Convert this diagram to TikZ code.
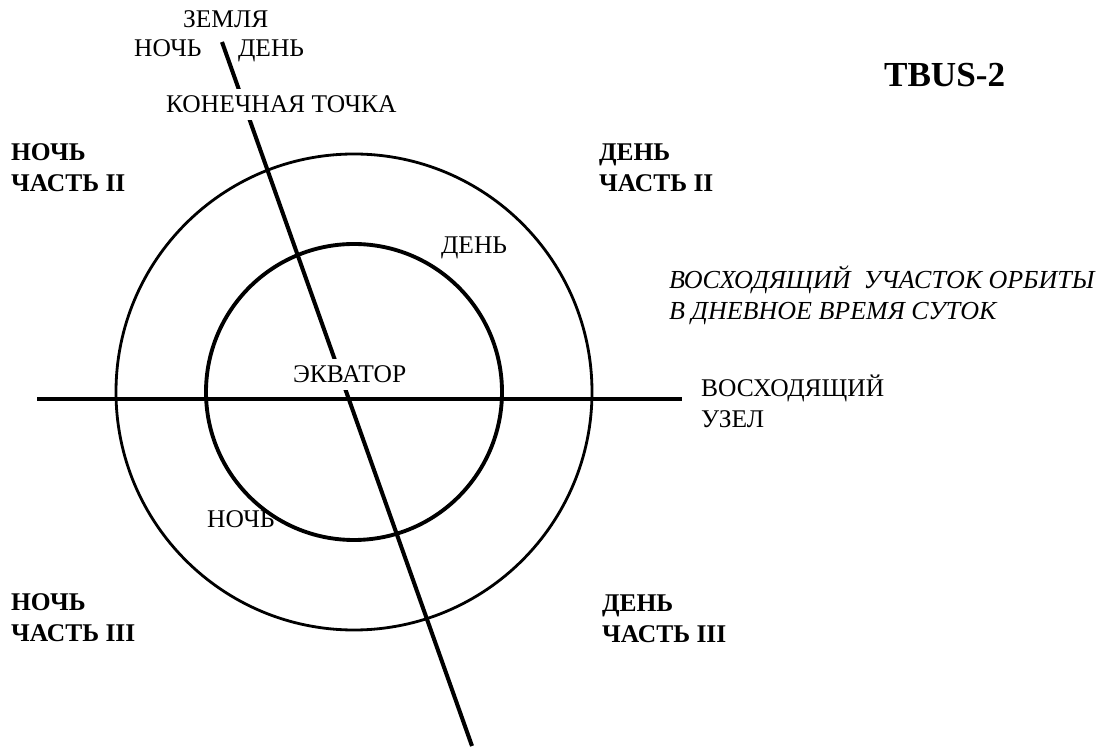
\documentclass[tikz,border=0pt]{standalone}
\usepackage{fontspec}
\setmainfont{Liberation Serif}
\usetikzlibrary{positioning}

\begin{document}
\begin{tikzpicture}[x=0.02cm, y=-0.02cm,
  every node/.style={font=\fontsize{14.5}{18}\selectfont, inner sep=1pt, anchor=base west, align=left},
  part/.style={font=\bfseries\fontsize{14.5}{18}\selectfont},
  gap/.style={fill=white, inner ysep=4pt}]
  \useasboundingbox (0,0) rectangle (1107,749);

  % orbit circles and axes
  \coordinate (ctr) at (354,392);
  \coordinate (west) at (37,399);
  \coordinate (east) at (682,399);
  \coordinate (top) at (222,42);
  \coordinate (bot) at (472,746);
  \draw[line width=1.6pt] (ctr) circle (238);
  \draw[line width=2.2pt] (ctr) circle (148);
  \draw[line width=2.3pt] (west) -- (east);
  \draw[line width=2.3pt] (top) -- (bot);

  % labels on the track (break the line)
  \node[gap] (end) at (164,113) {КОНЕЧНАЯ ТОЧКА};
  \node[gap] (eq) at (291,383) {ЭКВАТОР};

  % earth
  \node (earth) at (181,28) {ЗЕМЛЯ};
  \node (en) at (132,57) {НОЧЬ};
  \node (ed) at (236,57) {ДЕНЬ};

  % quadrants (base = last line)
  \node[part] (n2) at (9,192) {НОЧЬ\\ЧАСТЬ II};
  \node[part] (d2) at (597,192) {ДЕНЬ\\ЧАСТЬ II};
  \node[part] (n3) at (9,642) {НОЧЬ\\ЧАСТЬ  III};
  \node[part] (d3) at (600,643) {ДЕНЬ\\ЧАСТЬ  III};
  \node[font=\bfseries\fontsize{20}{22}\selectfont] (title) at (882,87) {TBUS-2};

  % inner labels
  \node (day) at (439,254) {ДЕНЬ};
  \node (night) at (205,528) {НОЧЬ};

  % right side
  \node[font=\itshape\fontsize{14.8}{18}\selectfont] (asc) at (667,320) {ВОСХОДЯЩИЙ\ \ УЧАСТОК ОРБИТЫ\\В ДНЕВНОЕ ВРЕМЯ СУТОК};
  \node (node) at (699,428) {ВОСХОДЯЩИЙ\\УЗЕЛ};
\end{tikzpicture}
\end{document}
